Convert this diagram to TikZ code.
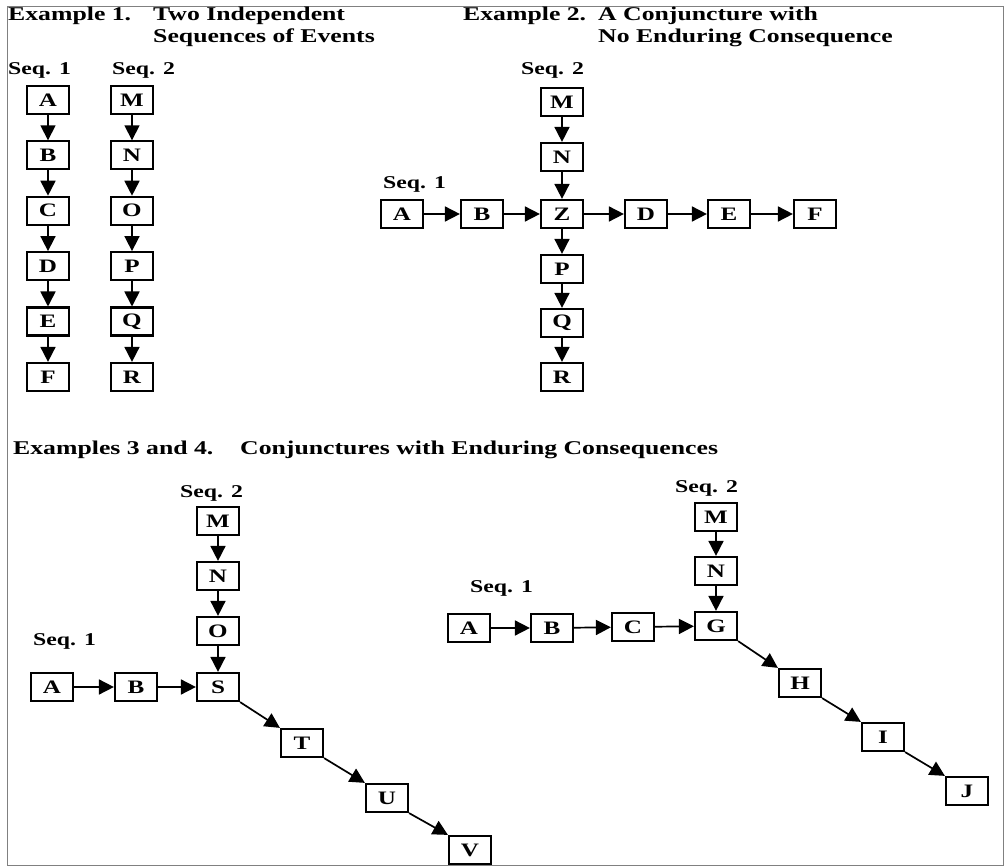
\documentclass[tikz,border=0pt]{standalone}
\usepackage{fontspec}
\setmainfont{Liberation Serif}[FakeStretch=1.32]
\usetikzlibrary{arrows.meta}
\begin{document}
\begin{tikzpicture}[x=1pt,y=-1pt,
  ev/.style={draw,line width=2.2pt,minimum width=42pt,minimum height=28pt,
    inner sep=0pt,font=\bfseries\fontsize{19}{19}\selectfont},
  hd/.style={anchor=base west,inner sep=0pt,font=\bfseries\fontsize{19.5}{22}\selectfont},
  sq/.style={anchor=base west,inner sep=0pt,font=\bfseries\fontsize{18}{18}\selectfont},
  link/.style={line width=1.7pt,-{Triangle[length=15pt,width=15pt]}}]
\useasboundingbox (0,0) rectangle (1007,866);
\draw[gray,line width=1pt] (7,7) rectangle (1003,865);

% ---------- Example 1: two independent sequences ----------
\node[hd] (h1a) at (8,21) {Example 1.};
\node[hd] (h1b) at (153,21) {Two Independent};
\node[hd] (h1c) at (153,43) {Sequences of Events};
\node[sq] (s1a) at (8,75) {Seq. 1};
\node[sq] (s1b) at (112,75) {Seq. 2};
\foreach \n/\y in {A/100,B/155.4,C/210.8,D/266.2,E/321.6,F/377}
  \node[ev] (a\n) at (48,\y) {\n};
\foreach \n/\y in {M/100,N/155.4,O/210.8,P/266.2,Q/321.6,R/377}
  \node[ev] (a\n) at (132,\y) {\n};
\foreach \p/\q in {A/B,B/C,C/D,D/E,E/F,M/N,N/O,O/P,P/Q,Q/R}
  \draw[link] (a\p) -- (a\q);

% ---------- Example 2: conjuncture with no enduring consequence ----------
\node[hd] (h2a) at (463,21) {Example 2.};
\node[hd] (h2b) at (598,21) {A Conjuncture with};
\node[hd] (h2c) at (598,43) {No Enduring Consequence};
\node[sq] (s2b) at (521,75) {Seq. 2};
\node[sq] (s2a) at (383,189) {Seq. 1};
\node[ev] (bM) at (562,102) {M};
\node[ev] (bN) at (562,157) {N};
\foreach \n/\x in {A/402,B/482,Z/562,D/646,E/729,F/815}
  \node[ev] (b\n) at (\x,214) {\n};
\foreach \n/\y in {P/269,Q/323,R/377}
  \node[ev] (b\n) at (562,\y) {\n};
\foreach \p/\q in {M/N,N/Z,A/B,B/Z,Z/D,D/E,E/F,Z/P,P/Q,Q/R}
  \draw[link] (b\p) -- (b\q);

% ---------- Examples 3 and 4: conjunctures with enduring consequences ----------
\node[hd] (h3a) at (13,454) {Examples 3 and 4.};
\node[hd] (h3b) at (240,454) {Conjunctures with Enduring Consequences};

% Example 3
\node[sq] (s3b) at (180,497) {Seq. 2};
\node[sq] (s3a) at (33,645) {Seq. 1};
\node[ev] (cM) at (218,521) {M};
\node[ev] (cN) at (218,576) {N};
\node[ev] (cO) at (218,631) {O};
\node[ev] (cS) at (218,687) {S};
\node[ev] (cA) at (52,687) {A};
\node[ev] (cB) at (136,687) {B};
\node[ev] (cT) at (302,743) {T};
\node[ev] (cU) at (387,798) {U};
\node[ev] (cV) at (470,850) {V};
\foreach \p/\q in {M/N,N/O,O/S,A/B,B/S}
  \draw[link] (c\p) -- (c\q);
\foreach \p/\q in {S/T,T/U,U/V}
  \draw[link] (c\p.south east) -- (c\q.north west);

% Example 4
\node[sq] (s4b) at (675,493) {Seq. 2};
\node[sq] (s4a) at (470,592) {Seq. 1};
\node[ev] (dM) at (716,517) {M};
\node[ev] (dN) at (716,571) {N};
\node[ev] (dG) at (716,626) {G};
\node[ev] (dA) at (469,628) {A};
\node[ev] (dB) at (552,628) {B};
\node[ev] (dC) at (633,627) {C};
\node[ev] (dH) at (800,683) {H};
\node[ev] (dI) at (883,737) {I};
\node[ev] (dJ) at (967,791) {J};
\foreach \p/\q in {M/N,N/G,A/B,B/C,C/G}
  \draw[link] (d\p) -- (d\q);
\foreach \p/\q in {G/H,H/I,I/J}
  \draw[link] (d\p.south east) -- (d\q.north west);
\end{tikzpicture}
\end{document}
